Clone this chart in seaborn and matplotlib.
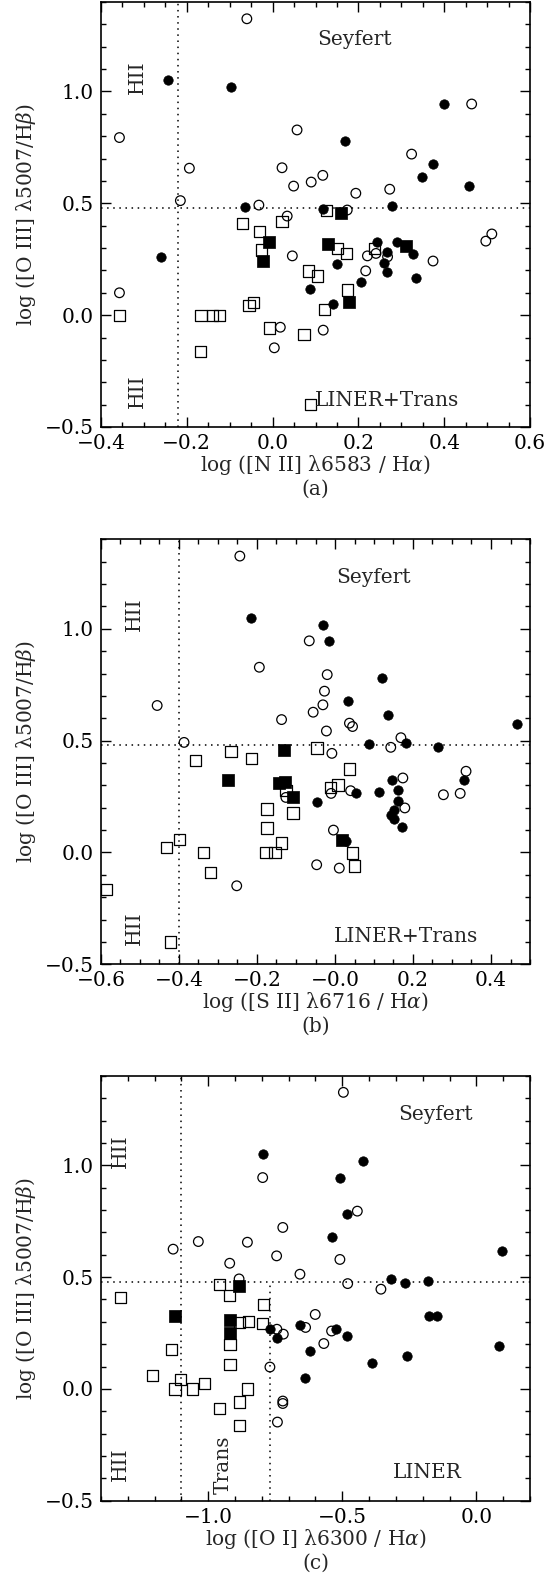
import numpy as np
import matplotlib
matplotlib.use("Agg")
import matplotlib.pyplot as plt
import seaborn as sns

# ---------------- DATA ----------------
# Panel (a): log([N II]/Ha) vs log([O III]/Hb)
a_filled_circ_x = [-0.243, -0.097, 0.400, 0.168, 0.374, 0.348, 0.457, -0.065, 0.117, 0.278, -0.260,
                   0.244, 0.266, 0.259, 0.289, 0.328, 0.151, 0.266, 0.334, 0.207, 0.088, 0.140]
a_filled_circ_y = [1.051, 1.019, 0.944, 0.778, 0.677, 0.616, 0.577, 0.483, 0.473, 0.489, 0.261,
                   0.328, 0.283, 0.234, 0.328, 0.272, 0.227, 0.191, 0.166, 0.149, 0.115, 0.049]
a_open_circ_x = [-0.060, -0.357, 0.057, -0.194, 0.022, 0.049, 0.090, 0.117, 0.464, 0.324, 0.194, 0.273,
                 -0.215, -0.032, 0.034, 0.174, 0.046, 0.497, 0.511, 0.221, 0.241, 0.268, 0.374, 0.217,
                 -0.357, 0.018, 0.004, 0.118]
a_open_circ_y = [1.325, 0.794, 0.828, 0.657, 0.659, 0.577, 0.595, 0.625, 0.944, 0.720, 0.545, 0.563,
                 0.512, 0.492, 0.443, 0.470, 0.265, 0.331, 0.363, 0.265, 0.276, 0.261, 0.242, 0.198,
                 0.100, -0.054, -0.146, -0.067]
a_open_sq_x = [0.125, -0.070, -0.031, 0.022, -0.026, 0.084, 0.105, -0.357, -0.167, -0.140, -0.124,
               -0.055, -0.044, 0.121, -0.007, 0.073, -0.168, 0.088, 0.151, 0.172, 0.238, 0.174]
a_open_sq_y = [0.467, 0.410, 0.373, 0.418, 0.291, 0.197, 0.175, 0.000, 0.000, 0.000, 0.000,
               0.043, 0.058, 0.025, -0.057, -0.088, -0.164, -0.398, 0.298, 0.276, 0.298, 0.112]
a_filled_sq_x = [0.160, -0.008, -0.022, 0.128, 0.311, 0.178]
a_filled_sq_y = [0.455, 0.327, 0.242, 0.316, 0.310, 0.057]

# Panel (b): log([S II]/Ha) vs log([O III]/Hb)
b_filled_circ_x = [-0.215, -0.032, -0.015, 0.120, 0.033, 0.137, 0.467, 0.182, 0.086, 0.265, -0.046,
                   0.054, 0.113, 0.146, 0.161, 0.161, 0.152, 0.143, 0.150, 0.171, 0.332, 0.027]
b_filled_circ_y = [1.049, 1.019, 0.944, 0.779, 0.679, 0.616, 0.576, 0.490, 0.483, 0.470, 0.227,
                   0.266, 0.272, 0.325, 0.281, 0.231, 0.191, 0.169, 0.150, 0.115, 0.325, 0.049]
b_open_circ_x = [-0.244, -0.066, -0.194, -0.020, -0.027, -0.031, -0.056, -0.456, -0.137, -0.022,
                 -0.387, 0.037, 0.045, 0.169, 0.143, -0.008, -0.126, -0.010, 0.040, 0.174, 0.179,
                 0.278, 0.321, 0.336, -0.004, -0.252, -0.047, 0.011]
b_open_circ_y = [1.325, 0.946, 0.828, 0.795, 0.721, 0.660, 0.627, 0.657, 0.594, 0.543,
                 0.492, 0.578, 0.563, 0.513, 0.470, 0.443, 0.246, 0.264, 0.276, 0.333, 0.199,
                 0.258, 0.264, 0.363, 0.100, -0.149, -0.055, -0.070]
b_open_sq_x = [-0.046, -0.267, -0.357, -0.215, -0.126, -0.012, 0.008, 0.038, -0.174, -0.108, -0.174,
               -0.138, -0.177, -0.154, -0.338, -0.432, -0.399, -0.319, -0.585, -0.421, 0.044, 0.050]
b_open_sq_y = [0.467, 0.452, 0.410, 0.421, 0.276, 0.291, 0.302, 0.373, 0.194, 0.176, 0.109,
               0.042, 0.000, 0.000, 0.000, 0.022, 0.057, -0.090, -0.166, -0.400, -0.003, -0.060]
b_filled_sq_x = [-0.131, -0.275, -0.143, -0.129, -0.108, 0.017]
b_filled_sq_y = [0.460, 0.325, 0.311, 0.313, 0.246, 0.055]

# Panel (c): log([O I]/Ha) vs log([O III]/Hb)
c_filled_circ_x = [-0.797, -0.422, -0.509, -0.481, -0.537, 0.097, -0.319, -0.267, -0.180, -0.770,
                   -0.744, -0.658, -0.621, -0.638, -0.523, -0.481, -0.388, -0.260, -0.175, -0.148, 0.086]
c_filled_circ_y = [1.050, 1.020, 0.945, 0.780, 0.680, 0.616, 0.491, 0.473, 0.483, 0.267,
                   0.228, 0.285, 0.169, 0.051, 0.270, 0.236, 0.116, 0.149, 0.326, 0.326, 0.191]
c_open_circ_x = [-0.797, -0.722, -1.131, -1.037, -0.854, -0.745, -0.920, -0.658, -0.885, -0.496,
                 -0.444, -0.509, -0.480, -0.356, -0.744, -0.720, -0.770, -0.722, -0.722, -0.742,
                 -0.637, -0.601, -0.569, -0.540]
c_open_circ_y = [0.945, 0.722, 0.625, 0.659, 0.656, 0.595, 0.562, 0.513, 0.492, 1.326,
                 0.795, 0.579, 0.471, 0.446, 0.267, 0.245, 0.098, -0.054, -0.065, -0.148,
                 0.275, 0.333, 0.203, 0.259]
c_open_sq_x = [-0.959, -0.922, -1.327, -0.795, -0.884, -0.851, -0.797, -0.919, -1.137, -0.919,
               -1.209, -1.103, -1.124, -1.058, -1.015, -0.959, -0.884, -0.854, -0.884]
c_open_sq_y = [0.468, 0.419, 0.410, 0.377, 0.297, 0.300, 0.292, 0.199, 0.176, 0.109,
               0.060, 0.042, 0.000, 0.000, 0.024, -0.088, -0.058, 0.000, -0.162]
c_filled_sq_x = [-0.884, -1.124, -0.919, -0.919]
c_filled_sq_y = [0.459, 0.325, 0.310, 0.248]

# Dividing lines
oiii_split = 0.48
nii_split = -0.22
sii_split = -0.40
oi_split_hii = -1.10
oi_split_trans = -0.77

# Axis labels / ticks
y_label = "log ([O III] λ5007/H$\\beta$)"
x_labels = ["log ([N II] λ6583 / H$\\alpha$)",
            "log ([S II] λ6716 / H$\\alpha$)",
            "log ([O I] λ6300 / H$\\alpha$)"]
panel_tags = ["(a)", "(b)", "(c)"]
y_ticks = [-0.5, 0.0, 0.5, 1.0]
y_ticklabels = ["\u22120.5", "0.0", "0.5", "1.0"]
a_xticks = [-0.4, -0.2, 0.0, 0.2, 0.4, 0.6]
a_xticklabels = ["\u22120.4", "\u22120.2", "0.0", "0.2", "0.4", "0.6"]
b_xticks = [-0.6, -0.4, -0.2, 0.0, 0.2, 0.4]
b_xticklabels = ["\u22120.6", "\u22120.4", "\u22120.2", "\u22120.0", "0.2", "0.4"]
c_xticks = [-1.0, -0.5, 0.0]
c_xticklabels = ["\u22121.0", "\u22120.5", "0.0"]

# ---------------- STYLE ----------------
sns.set_theme(style="white")
plt.rcParams["font.family"] = ["DejaVu Serif"]
plt.rcParams["mathtext.fontset"] = "dejavuserif"
plt.rcParams["axes.linewidth"] = 1.2
plt.rcParams["axes.edgecolor"] = "black"

FS = 14.5
fig = plt.figure(figsize=(5.58, 15.82), dpi=100)

W = 558.0
H = 1582.0
left = 101 / W
width = 429 / W
ax_h = 425 / H
axes_tops = [2.0, 539.3, 1075.8]

panels = [
    dict(xlim=(-0.4, 0.6), xmin=0.05, xticks=a_xticks, xtl=a_xticklabels,
         fc=(a_filled_circ_x, a_filled_circ_y), oc=(a_open_circ_x, a_open_circ_y),
         os=(a_open_sq_x, a_open_sq_y), fs=(a_filled_sq_x, a_filled_sq_y),
         texts=[("Seyfert", 0.191, 1.231, 0), ("HII", -0.316, 1.065, 90),
                ("HII", -0.316, -0.339, 90), ("LINER+Trans", 0.266, -0.380, 0)]),
    dict(xlim=(-0.6, 0.5), xmin=0.05, xticks=b_xticks, xtl=b_xticklabels,
         fc=(b_filled_circ_x, b_filled_circ_y), oc=(b_open_circ_x, b_open_circ_y),
         os=(b_open_sq_x, b_open_sq_y), fs=(b_filled_sq_x, b_filled_sq_y),
         texts=[("Seyfert", 0.100, 1.230, 0), ("HII", -0.515, 1.064, 90),
                ("HII", -0.515, -0.337, 90), ("LINER+Trans", 0.181, -0.376, 0)]),
    dict(xlim=(-1.4, 0.2), xmin=0.1, xticks=c_xticks, xtl=c_xticklabels,
         fc=(c_filled_circ_x, c_filled_circ_y), oc=(c_open_circ_x, c_open_circ_y),
         os=(c_open_sq_x, c_open_sq_y), fs=(c_filled_sq_x, c_filled_sq_y),
         texts=[("Seyfert", -0.154, 1.229, 0), ("HII", -1.326, 1.063, 90),
                ("HII", -1.326, -0.335, 90), ("Trans", -0.945, -0.337, 90),
                ("LINER", -0.184, -0.373, 0)]),
]

dot = (0, (1, 3))
for i, p in enumerate(panels):
    top = axes_tops[i]
    bottom_frac = 1 - (top + 425) / H
    ax = fig.add_axes([left, bottom_frac, width, ax_h])
    ax.set_xlim(*p["xlim"])
    ax.set_ylim(-0.5, 1.4)

    # markers
    sns.scatterplot(x=p["os"][0], y=p["os"][1], ax=ax, marker="s", s=66,
                    color="black", facecolor="none", edgecolor="black", linewidth=0.9, zorder=3)
    sns.scatterplot(x=p["oc"][0], y=p["oc"][1], ax=ax, marker="o", s=48,
                    color="black", facecolor="none", edgecolor="black", linewidth=0.9, zorder=3)
    sns.scatterplot(x=p["fs"][0], y=p["fs"][1], ax=ax, marker="s", s=64,
                    color="black", edgecolor="black", linewidth=0.5, zorder=4)
    sns.scatterplot(x=p["fc"][0], y=p["fc"][1], ax=ax, marker="o", s=46,
                    color="black", edgecolor="black", linewidth=0.5, zorder=4)

    # dividing lines
    ax.axhline(oiii_split, color="black", lw=1.1, ls=dot, zorder=2)
    if i == 0:
        ax.axvline(nii_split, color="black", lw=1.1, ls=dot, zorder=2)
    elif i == 1:
        ax.axvline(sii_split, color="black", lw=1.1, ls=dot, zorder=2)
    else:
        ax.axvline(oi_split_hii, color="black", lw=1.1, ls=dot, zorder=2)
        ax.vlines(oi_split_trans, -0.5, oiii_split, color="black", lw=1.1,
                  linestyles=[dot], zorder=2)

    # texts
    for t, tx, ty, rot in p["texts"]:
        ax.text(tx, ty, t, fontsize=FS, ha="center", va="center", rotation=rot)

    # ticks
    ax.set_xticks(p["xticks"])
    ax.set_xticklabels(p["xtl"])
    ax.set_yticks(y_ticks)
    ax.set_yticklabels(y_ticklabels)
    ax.xaxis.set_minor_locator(matplotlib.ticker.MultipleLocator(p["xmin"]))
    ax.yaxis.set_minor_locator(matplotlib.ticker.MultipleLocator(0.1))
    ax.tick_params(which="both", direction="in", top=True, right=True,
                   bottom=True, left=True, colors="black", width=1.0)
    ax.tick_params(which="major", length=7, labelsize=FS, pad=5)
    ax.tick_params(which="minor", length=3.5)

    ax.set_xlabel(x_labels[i], fontsize=FS)
    ax.xaxis.set_label_coords(0.5, -38 / 425)
    ax.xaxis.label.set_va("center")
    ax.set_ylabel(y_label, fontsize=FS)
    ax.yaxis.set_label_coords(-75 / 429, 0.5)
    ax.yaxis.label.set_va("center")
    ax.text(0.5, -62 / 425, panel_tags[i], transform=ax.transAxes, fontsize=FS,
            ha="center", va="center")
    for s in ax.spines.values():
        s.set_color("black")
        s.set_linewidth(1.2)

fig.savefig("out.png", dpi=100, facecolor="white")
